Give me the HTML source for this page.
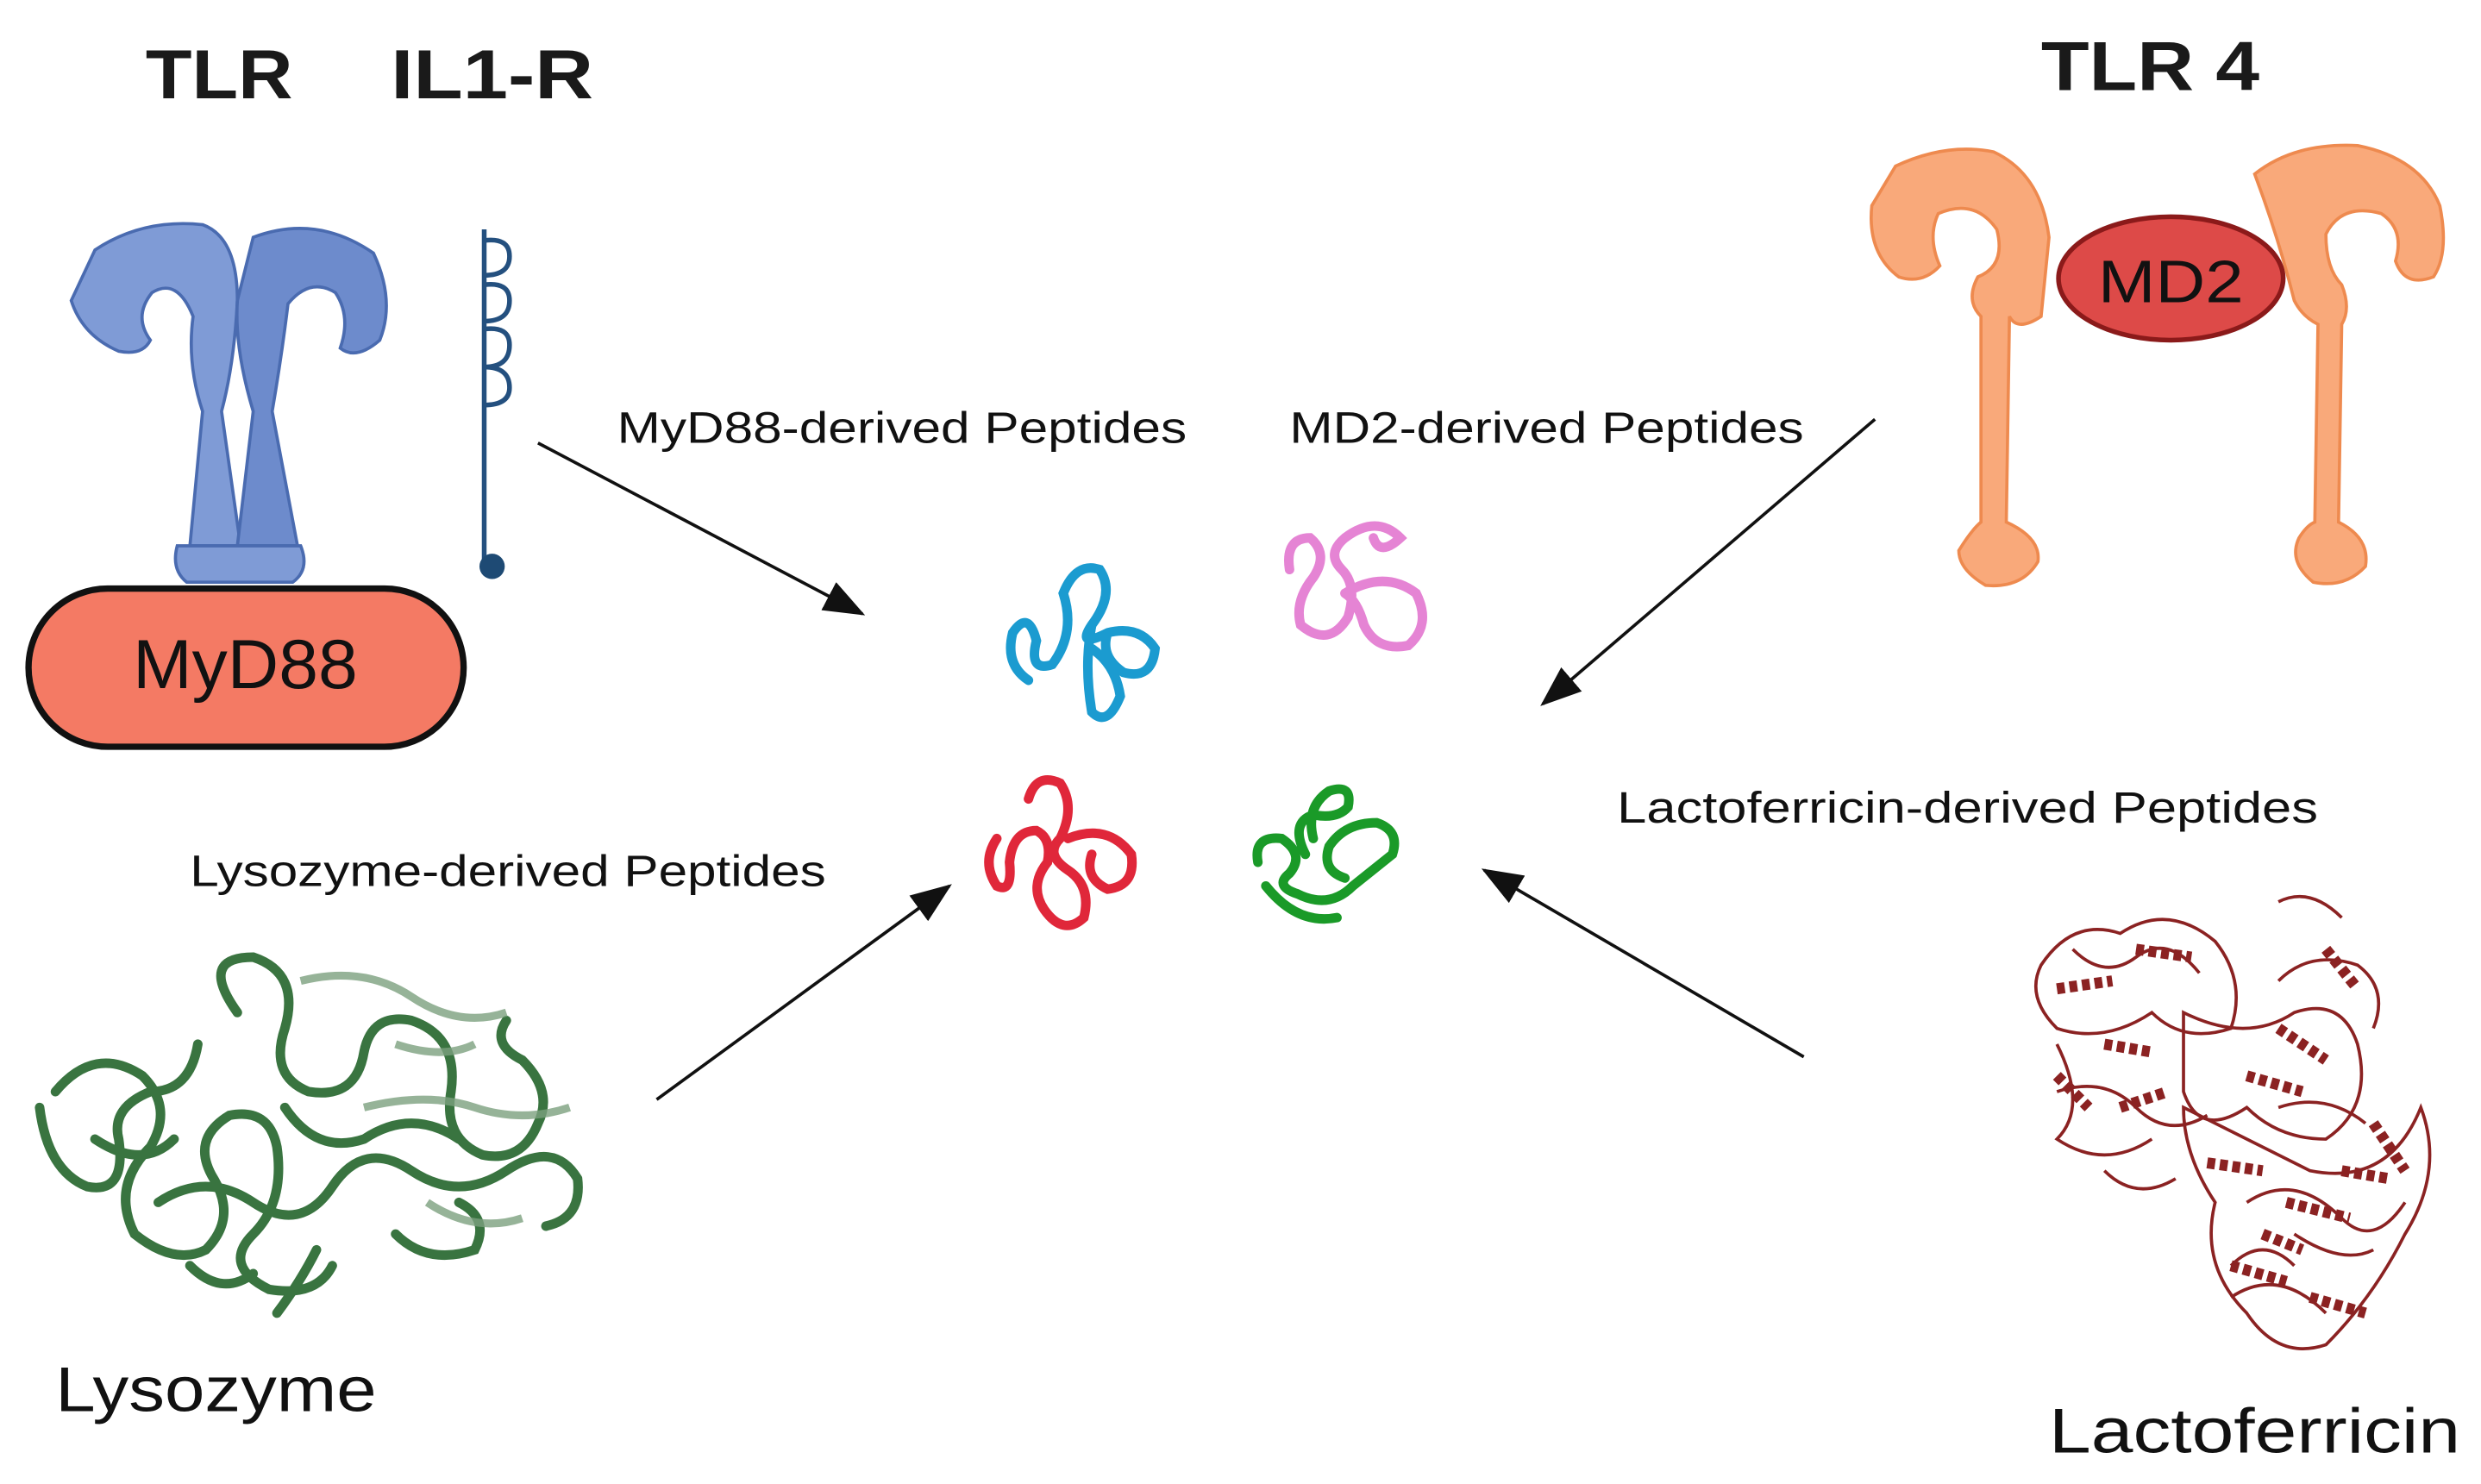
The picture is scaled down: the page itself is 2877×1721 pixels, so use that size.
<!DOCTYPE html>
<html><head><meta charset="utf-8"><style>
html,body{margin:0;padding:0;background:#fff;}
svg{display:block;}
text{font-family:"Liberation Sans",sans-serif;}
</style></head><body>
<svg width="2877" height="1721" viewBox="0 0 1568 938" xmlns="http://www.w3.org/2000/svg">
<defs>
<marker id="ah" markerWidth="26" markerHeight="20" refX="24" refY="10" orient="auto" markerUnits="userSpaceOnUse" viewBox="0 0 26 20">
<path d="M0,0 L26,10 L0,20 z" fill="#111"/></marker>
</defs>
<!-- titles -->
<text x="92" y="62" font-size="44" font-weight="bold" fill="#1a1a1a" textLength="93" lengthAdjust="spacingAndGlyphs">TLR</text>
<text x="247" y="62" font-size="44" font-weight="bold" fill="#1a1a1a" textLength="128" lengthAdjust="spacingAndGlyphs">IL1-R</text>
<text x="1290" y="57" font-size="44" font-weight="bold" fill="#1a1a1a" textLength="138" lengthAdjust="spacingAndGlyphs">TLR 4</text>

<!-- TLR blue receptor -->
<g stroke="#4a6bb0" stroke-width="2" fill="#7f9bd6">
<path d="M60,158 Q90,138 128,142 Q150,150 150,190 Q148,230 140,260 L152,345 L120,345 L128,260 Q118,230 122,200 Q112,175 96,185 Q84,200 95,215 Q90,225 75,222 Q52,212 45,190 Z"/>
<path d="M160,150 Q200,135 236,160 Q250,190 240,215 Q225,228 215,220 Q222,200 212,185 Q196,175 182,192 Q178,225 172,260 L188,345 L150,345 L160,260 Q148,220 150,190 Z" fill="#6d8bcc"/>
<path d="M112,345 Q108,360 118,368 L185,368 Q196,360 190,345 Z"/>
</g>
<!-- IL1-R -->
<g stroke="#24507f" stroke-width="3" fill="none">
<line x1="306" y1="145" x2="306" y2="355"/>
<path d="M306,152 Q322,150 322,162 Q322,174 306,174 M306,180 Q322,178 322,190 Q322,203 306,203 M306,208 Q322,206 322,218 Q322,232 306,232 M306,232 Q322,232 322,245 Q322,256 306,256"/>
</g>
<circle cx="311" cy="358" r="8" fill="#1e4a74"/>

<!-- MyD88 pill -->
<rect x="18" y="372" width="275" height="100" rx="50" fill="#f47a64" stroke="#111" stroke-width="4"/>
<text x="155" y="435" font-size="44" text-anchor="middle" fill="#111" textLength="142" lengthAdjust="spacingAndGlyphs">MyD88</text>

<!-- TLR4 orange -->
<g fill="#f9a97a" stroke="#ee8a4f" stroke-width="2">
<path d="M1198,105 Q1230,90 1260,96 Q1290,110 1295,150 L1290,200 Q1275,210 1270,200 L1268,330 Q1290,340 1288,355 Q1278,372 1255,370 Q1238,360 1238,348 Q1246,335 1252,330 L1252,200 Q1242,190 1250,175 Q1268,168 1262,145 Q1248,125 1225,135 Q1218,150 1226,168 Q1215,180 1200,175 Q1180,160 1183,130 Z"/>
<path d="M1425,110 Q1450,90 1490,92 Q1530,100 1542,130 Q1548,160 1538,175 Q1520,182 1514,165 Q1520,145 1505,135 Q1480,128 1470,148 Q1470,170 1480,180 Q1486,195 1480,205 L1478,330 Q1498,340 1495,358 Q1482,372 1462,368 Q1446,355 1453,340 Q1458,332 1463,330 L1465,205 Q1455,200 1450,190 Q1440,150 1425,110 Z"/>
</g>
<ellipse cx="1372" cy="176" rx="71" ry="39" fill="#dd4a48" stroke="#8b1a1a" stroke-width="3"/>
<text x="1372" y="191" font-size="38" text-anchor="middle" fill="#111" textLength="92" lengthAdjust="spacingAndGlyphs">MD2</text>

<!-- labels -->
<g font-size="28" fill="#111">
<text x="390" y="280" textLength="360" lengthAdjust="spacingAndGlyphs">MyD88-derived Peptides</text>
<text x="815" y="280" textLength="325" lengthAdjust="spacingAndGlyphs">MD2-derived Peptides</text>
<text x="1022" y="520" textLength="443" lengthAdjust="spacingAndGlyphs">Lactoferricin-derived Peptides</text>
<text x="120" y="560" textLength="402" lengthAdjust="spacingAndGlyphs">Lysozyme-derived Peptides</text>
</g>

<!-- arrows -->
<g stroke="#111" stroke-width="2" fill="none" marker-end="url(#ah)">
<line x1="340" y1="280" x2="545" y2="388"/>
<line x1="1185" y1="265" x2="975" y2="445"/>
<line x1="415" y1="695" x2="600" y2="560"/>
<line x1="1140" y1="668" x2="938" y2="550"/>
</g>

<!-- peptides -->
<g fill="none" stroke-width="6" stroke-linecap="round">
<path stroke="#1b9bd0" d="M650,430 Q635,420 640,400 Q650,385 655,405 Q650,425 665,420 Q680,400 672,375 Q680,355 695,360 Q705,375 690,395 Q680,410 700,400 Q720,395 730,410 Q728,430 710,425 Q695,415 700,400 M690,395 Q685,420 690,450 Q700,460 708,440 Q705,420 690,410"/>
<path stroke="#e584d4" d="M815,360 Q812,340 828,340 Q840,350 830,365 Q818,380 822,395 Q840,410 852,390 Q858,370 848,360 Q838,350 850,340 Q870,325 885,340 Q872,352 868,340 M850,375 Q875,360 895,375 Q905,395 890,408 Q870,412 862,395 Q858,380 850,375"/>
<path stroke="#e0273a" d="M630,530 Q620,545 630,560 Q640,565 638,545 Q640,525 655,525 Q665,530 662,545 Q650,560 660,575 Q672,592 685,580 Q690,560 675,550 Q660,540 670,530 Q680,510 670,495 Q655,488 650,505 M675,530 Q700,520 715,540 Q718,560 700,562 Q685,555 690,540"/>
<path stroke="#1a9a28" d="M795,545 Q792,528 810,530 Q825,540 815,552 Q805,560 820,565 Q840,575 855,560 Q870,548 880,540 Q885,525 870,520 Q850,520 840,535 Q835,550 850,555 M830,530 Q825,510 840,500 Q855,495 852,510 Q845,518 830,515 Q815,520 825,540 M800,560 Q820,585 845,580"/>
</g>

<!-- Lysozyme structure -->
<g fill="none" stroke="#2f6d36" stroke-width="6" stroke-linecap="round" opacity="0.95">
<path d="M35,690 Q60,660 90,680 Q110,700 95,725 Q70,750 85,780 Q110,800 130,790 Q150,770 135,745 Q120,720 145,705 Q170,700 175,725 Q180,760 160,780 Q140,800 170,815 Q200,820 210,800"/>
<path d="M150,640 Q125,605 160,605 Q190,615 180,650 Q170,680 195,690 Q225,695 230,665 Q235,640 260,645 Q290,655 285,690 Q280,720 305,730 Q330,735 340,710 Q350,690 330,670 Q310,660 320,645"/>
<path d="M25,700 Q30,740 55,750 Q80,755 75,720 Q70,700 95,690 Q120,690 125,660 M100,760 Q130,740 160,760 Q190,780 210,750 Q230,720 260,740 Q290,760 320,740 Q350,720 365,745 Q368,770 345,775"/>
<path d="M180,700 Q200,730 230,720 Q260,700 290,720 M200,790 Q190,810 175,830 M250,780 Q270,800 300,790 Q310,770 290,760 M60,720 Q90,740 110,720 M120,800 Q140,820 160,805"/>
</g>
<g fill="none" stroke="#7ca07e" stroke-width="5" opacity="0.8">
<path d="M190,620 Q230,610 260,630 Q290,650 320,640 M230,700 Q270,690 300,700 Q330,710 360,700 M270,760 Q300,780 330,770 M250,660 Q280,670 300,660"/>
</g>
<text x="35" y="892" font-size="40" fill="#111" textLength="203" lengthAdjust="spacingAndGlyphs">Lysozyme</text>

<!-- Lactoferricin structure -->
<g fill="none" stroke="#8b2222" stroke-width="2">
<path d="M1290,610 Q1310,580 1340,590 Q1370,570 1400,595 Q1420,620 1410,650 Q1380,660 1360,640 Q1330,660 1300,650 Q1280,630 1290,610 Z"/>
<path d="M1380,640 Q1420,660 1450,640 Q1480,630 1490,660 Q1500,700 1470,720 Q1440,720 1420,700 Q1390,720 1380,690 Z"/>
<path d="M1380,700 Q1420,720 1460,740 Q1510,750 1530,700 Q1545,740 1520,780 Q1500,820 1470,850 Q1440,860 1420,830 Q1390,800 1400,760 Q1380,730 1380,700 Z"/>
<path d="M1300,660 Q1320,700 1300,720 Q1330,740 1360,720 M1440,570 Q1460,560 1480,580 M1450,780 Q1480,800 1500,790 M1410,800 Q1430,780 1450,800"/>
<path d="M1310,600 Q1330,620 1350,605 Q1370,590 1390,615 M1300,690 Q1330,680 1350,700 Q1370,720 1395,705 M1420,760 Q1450,740 1480,770 Q1500,790 1520,760 M1410,820 Q1440,800 1470,830 M1440,620 Q1460,600 1490,610 Q1510,625 1500,650 M1330,740 Q1350,760 1375,745 M1440,700 Q1470,690 1495,710"/>
</g>
<g fill="none" stroke="#8b2222" stroke-width="7" stroke-dasharray="5 3">
<path d="M1300,625 L1335,620 M1350,600 L1385,605 M1330,660 L1360,665 M1420,680 L1455,690 M1395,735 L1430,740 M1445,760 L1485,770 M1410,800 L1445,810 M1460,820 L1495,830 M1440,650 L1470,670 M1500,710 L1520,740 M1300,680 L1320,700 M1470,600 L1490,625 M1340,700 L1370,690 M1480,740 L1510,745 M1430,780 L1455,790"/>
</g>
<text x="1295" y="918" font-size="40" fill="#111" textLength="260" lengthAdjust="spacingAndGlyphs">Lactoferricin</text>
</svg>
</body></html>
